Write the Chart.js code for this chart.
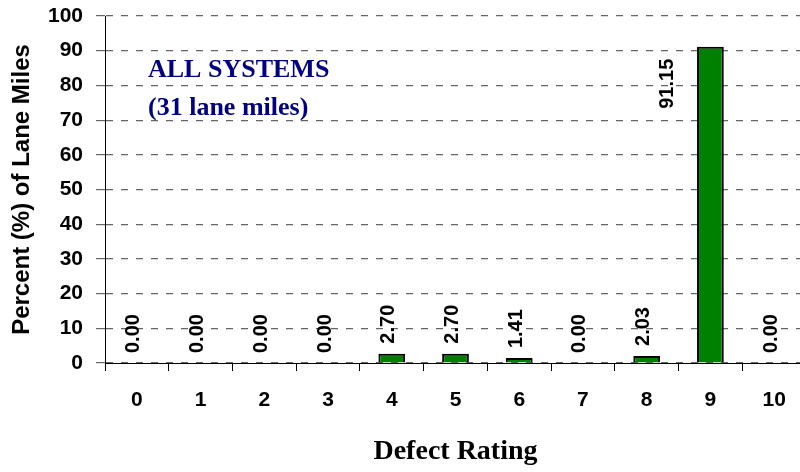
<!DOCTYPE html>
<html>
<head>
<meta charset="utf-8">
<script src="https://cdn.jsdelivr.net/npm/chart.js@4"></script>
<style>
html, body { margin:0; padding:0; background:#fff; overflow:hidden; }
#wrap { width:806px; height:472px; }
</style>
</head>
<body>
<div id="wrap"><canvas id="defectChart" width="806" height="472"></canvas></div>
<script>

// data
const ratings = ["0","1","2","3","4","5","6","7","8","9","10"];
const percentMiles = [0.00, 0.00, 0.00, 0.00, 2.70, 2.70, 1.41, 0.00, 2.03, 91.15, 0.00];
const yTicks = [0,10,20,30,40,50,60,70,80,90,100];
const noteLines = ["ALL SYSTEMS", "(31 lane miles)"];


// value labels, rotated, above each bar (beside it if no room)
const barLabels = {
  id:"barLabels",
  afterDatasetsDraw(chart){
    const ctx = chart.ctx;
    const meta = chart.getDatasetMeta(0);
    ctx.save();
    ctx.font = "bold 20px 'Liberation Sans', Arial, sans-serif";
    ctx.fillStyle = "#000";
    ctx.textBaseline = "middle";
    meta.data.forEach((bar, i)=>{
      const txt = percentMiles[i].toFixed(2);
      const w = ctx.measureText(txt).width;
      ctx.save();
      if(bar.y - 10 - w < chart.chartArea.top){
        ctx.translate(bar.x - 43, bar.y + 12);
        ctx.rotate(-Math.PI/2);
        ctx.textAlign = "right";
      } else {
        ctx.translate(bar.x - 3, bar.y - 10);
        ctx.rotate(-Math.PI/2);
        ctx.textAlign = "left";
      }
      ctx.fillText(txt, 0, 0);
      ctx.restore();
    });
    ctx.restore();
  }
};

// the blue note inside the plot
const note = {
  id:"note",
  afterDraw(chart){
    const ctx = chart.ctx;
    ctx.save();
    ctx.font = "bold 26px 'Liberation Serif', 'Times New Roman', serif";
    ctx.fillStyle = "#000080";
    ctx.textAlign = "left";
    ctx.textBaseline = "alphabetic";
    ctx.fillText(noteLines[0], 148, 77);
    ctx.fillText(noteLines[1], 148, 115);
    ctx.restore();
  }
};


new Chart(document.getElementById("defectChart"), {

type:"bar",

data:{
  labels:ratings,
  datasets:[{
    data:percentMiles,
    backgroundColor:"#008000",
    borderColor:"#000",
    borderWidth:2,
    barPercentage:0.42,
    categoryPercentage:1
  }]
},

options:{
  responsive:false,
  animation:false,
  devicePixelRatio:1,
  layout:{ padding:{ top:16, left:0, right:0, bottom:0 } },
  plugins:{
    legend:{ display:false },
    tooltip:{ enabled:false }
  },
  scales:{
    x:{
      offset:true,
      afterFit(s){ s.height = 109; s.paddingLeft = 0; s.paddingRight = 0; },
      grid:{
        offset:true,
        drawOnChartArea:false,
        color:"#000",
        tickLength:8
      },
      border:{ color:"#000", width:1 },
      ticks:{
        color:"#000",
        padding:17,
        font:{ family:"'Liberation Sans', Arial, sans-serif", size:21, weight:"bold" }
      },
      title:{
        display:true,
        text:"Defect Rating",
        color:"#000",
        padding:{ top:0, bottom:3 },
        font:{ family:"'Liberation Serif', 'Times New Roman', serif", size:28, weight:"bold" }
      }
    },
    y:{
      min:0,
      max:100,
      afterFit(s){ s.width = 105; s.paddingTop = 0; s.paddingBottom = 0; },
      afterBuildTicks(s){ s.ticks = yTicks.map(v=>({value:v})); },
      grid:{
        color:"#666",
        tickColor:"#666",
        tickLength:9,
        lineWidth:1.2
      },
      border:{ color:"#000", width:1, dash:[7,8] },
      ticks:{
        color:"#000",
        padding:13,
        font:{ family:"'Liberation Sans', Arial, sans-serif", size:21, weight:"bold" }
      },
      title:{
        display:true,
        text:"Percent (%) of Lane Miles",
        color:"#000",
        padding:{ top:8, bottom:0 },
        font:{ family:"'Liberation Sans', Arial, sans-serif", size:24, weight:"bold" }
      }
    }
  }
},

plugins:[barLabels, note]

});

</script>
</body>
</html>
